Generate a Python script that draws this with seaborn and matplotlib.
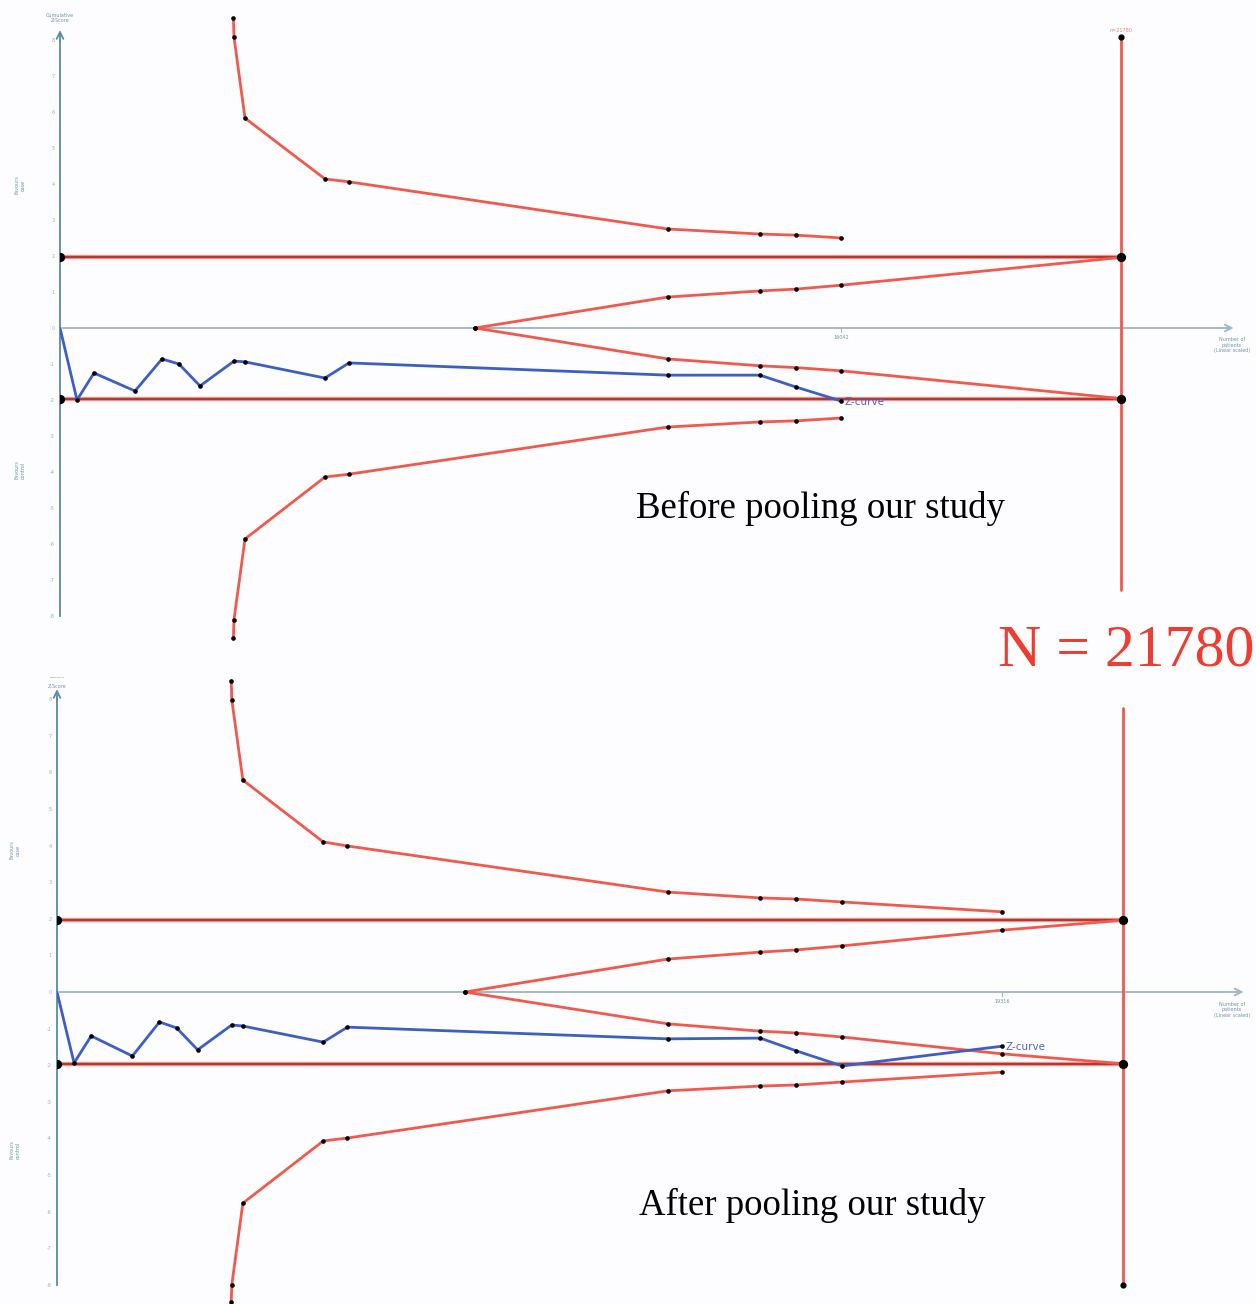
import numpy as np
import pandas as pd
import matplotlib.pyplot as plt
import seaborn as sns

# cumulative z-curve (number of patients, z)
zc_n_before = [0, 349, 698, 1540, 2094, 2443, 2874, 3572, 3798, 5440, 5933, 12482, 14371, 15110, 16042]
zc_z_before = [0, -2.0, -1.25, -1.75, -0.86, -1.0, -1.61, -0.92, -0.94, -1.39, -0.97, -1.31, -1.31, -1.64, -2.03]
zc_n_after = [0, 349, 698, 1540, 2094, 2443, 2874, 3572, 3798, 5440, 5933, 12482, 14371, 15110, 16042, 19316]
zc_z_after = [0, -1.94, -1.2, -1.75, -0.82, -0.98, -1.58, -0.90, -0.93, -1.37, -0.96, -1.28, -1.26, -1.61, -2.02, -1.48]

# monitoring boundaries
mb_n_before = [3560, 3572, 3798, 5440, 5933, 12482, 14371, 15110, 16042]
mb_up_before = [8.6, 8.08, 5.83, 4.14, 4.06, 2.75, 2.61, 2.58, 2.5]
mb_lo_before = [-8.6, -8.1, -5.86, -4.14, -4.06, -2.75, -2.61, -2.58, -2.5]
mb_n_after = [3560, 3572, 3798, 5440, 5933, 12482, 14371, 15110, 16042, 19316]
mb_up_after = [8.5, 7.98, 5.79, 4.1, 3.99, 2.73, 2.57, 2.54, 2.46, 2.19]
mb_lo_after = [-8.47, -8.0, -5.77, -4.07, -3.99, -2.70, -2.57, -2.54, -2.46, -2.19]

# futility boundaries
fb_n_before = [8520, 12482, 14371, 15110, 16042, 21780]
fb_up_before = [0, 0.86, 1.03, 1.08, 1.19, 1.96]
fb_lo_before = [0, -0.86, -1.05, -1.1, -1.19, -1.96]
fb_n_after = [8337, 12482, 14371, 15110, 16042, 19316, 21780]
fb_up_after = [0, 0.9, 1.09, 1.15, 1.26, 1.69, 1.96]
fb_lo_after = [0, -0.87, -1.07, -1.12, -1.23, -1.69, -1.96]

ris = 21780
z_conv = 1.96
y_ticks = list(range(-8, 9))

RED = '#f2594d'
DARKRED = '#b8362e'
BLUE = '#3d5fc4'
AXC = '#5a8aa5'
W, H = 1256, 1304

sns.set_theme(style="white")
plt.rcParams['font.family'] = ['DejaVu Sans']

fig = plt.figure(figsize=(W / 100, H / 100), dpi=100)
fig.patch.set_facecolor('#fdfdff')


def make_ax(left_px, right_px, top_px, bottom_px, xmax, ylim):
    ax = fig.add_axes([left_px / W, 1 - bottom_px / H,
                       (right_px - left_px) / W, (bottom_px - top_px) / H])
    ax.set_facecolor('none')
    ax.set_xlim(0, xmax)
    ax.set_ylim(*ylim)
    return ax


def draw_panel(ax, zn, zz, mn, mu, ml, fn, fu, fl, xtick, ris_top, ris_bot, top_dot):
    # axes
    for s in ['top', 'right']:
        ax.spines[s].set_visible(False)
    ax.spines['left'].set_position(('data', 0))
    ax.spines['left'].set_bounds(-8, 8)
    ax.spines['left'].set_color(AXC)
    ax.spines['left'].set_linewidth(1.3)
    ax.spines['bottom'].set_visible(False)
    ax.set_yticks(y_ticks)
    ax.set_yticklabels([str(t) for t in y_ticks], fontsize=3.5, color='#8fb0c8')
    ax.tick_params(axis='y', length=3, width=0.8, color=AXC, pad=1)
    ax.set_xticks([])
    ax.annotate('', xy=(0, 8.35), xytext=(0, 7.9),
                arrowprops=dict(arrowstyle='->', color=AXC, lw=1.3))
    xmax = ax.get_xlim()[1]
    ax.annotate('', xy=(xmax * 0.997, 0), xytext=(0, 0),
                arrowprops=dict(arrowstyle='->', color='#a3b8c6', lw=1.4))
    ax.plot([xtick, xtick], [0, -0.12], color='#a3b8c6', lw=0.8)
    ax.text(xtick, -0.2, str(xtick), ha='center', va='top', fontsize=3.5, color='#6f93ad')

    # conventional boundaries
    for zc in (z_conv, -z_conv):
        ax.plot([0, ris], [zc, zc], color='#e8a59f', lw=3.2, solid_capstyle='butt', zorder=2)
        ax.plot([0, ris], [zc, zc], color=DARKRED, lw=1.6, zorder=2)
    ax.scatter([0, 0, ris, ris], [z_conv, -z_conv, z_conv, -z_conv], s=32, color='black', zorder=6)

    # RIS line
    ax.plot([ris, ris], [ris_bot, ris_top], color=RED, lw=2, zorder=3)
    ax.scatter([ris], [top_dot], s=12, color='black', zorder=6)

    # monitoring and futility boundaries
    for xs, ys in [(mn, mu), (mn, ml), (fn, fu), (fn, fl)]:
        df = pd.DataFrame({'n': xs, 'z': ys})
        sns.lineplot(data=df, x='n', y='z', sort=False, color=RED, lw=2, ax=ax, zorder=3)
        k = len(xs) - (1 if xs is fn else 0)
        ax.scatter(df['n'][:k], df['z'][:k], s=11, color='black', zorder=5, linewidths=0)

    # z-curve
    dfz = pd.DataFrame({'n': zn, 'z': zz})
    sns.lineplot(data=dfz, x='n', y='z', sort=False, color=BLUE, lw=2, ax=ax, zorder=4)
    ax.scatter(dfz['n'][1:], dfz['z'][1:], s=11, color='black', zorder=5, linewidths=0)
    ax.text(zn[-1] + 60, zz[-1] - 0.03, 'Z-curve', fontsize=7.5, color='#4a63d0',
            va='center', ha='left')
    ax.set_xlabel('')
    ax.set_ylabel('')


# top panel: origin x=60px, z=0 at y=328px, 36 px per unit
ax1 = make_ax(60, 1240, 328 - 8.9 * 36, 328 + 9.0 * 36, (1240 - 60) / 0.04871, (-9.0, 8.9))
draw_panel(ax1, zc_n_before, zc_z_before, mb_n_before, mb_up_before, mb_lo_before,
           fb_n_before, fb_up_before, fb_lo_before, 16042, 8.08, (328 - 590) / 36, 8.08)

# bottom panel: origin x=57px, z=0 at y=992px, 36.6 px per unit
ax2 = make_ax(57, 1250, 992 - 8.8 * 36.6, 992 + 8.5 * 36.6, (1250 - 57) / 0.04894, (-8.5, 8.8))
draw_panel(ax2, zc_n_after, zc_z_after, mb_n_after, mb_up_after, mb_lo_after,
           fb_n_after, fb_up_after, fb_lo_after, 19316, (992 - 708) / 36.6, -8.0, -8.0)


def ftext(x, y, s, **kw):
    fig.text(x / W, 1 - y / H, s, **kw)


small = dict(fontsize=3.5, color='#6f93ad', ha='center', va='center')
ftext(60, 18, 'Cumulative\nZ-Score', **small)
ftext(57, 686, 'Z-Score', **small)
ftext(57, 678, '──────', fontsize=3, color='#9fb8cc', ha='center', va='center')
ftext(20, 185, 'Favours\ncase', rotation=90, **small)
ftext(20, 470, 'Favours\ncontrol', rotation=90, **small)
ftext(15, 850, 'Favours\ncase', rotation=90, **small)
ftext(15, 1150, 'Favours\ncontrol', rotation=90, **small)
ftext(1232, 345, 'Number of\npatients\n(Linear scaled)', **small)
ftext(1232, 1010, 'Number of\npatients\n(Linear scaled)', **small)
ftext(1121, 31, 'n=21780', fontsize=3.5, color='#f07a70', ha='center', va='center')

ftext(820, 508, 'Before pooling our study', fontsize=26.5, family='Liberation Serif',
      color='black', ha='center', va='center')
ftext(812, 1205, 'After pooling our study', fontsize=26.5, family='Liberation Serif',
      color='black', ha='center', va='center')
ftext(1126, 652, 'N = 21780', fontsize=43, family='Liberation Serif',
      color='#f03c30', ha='center', va='center')

fig.savefig('out.png', dpi=100, facecolor=fig.get_facecolor())
